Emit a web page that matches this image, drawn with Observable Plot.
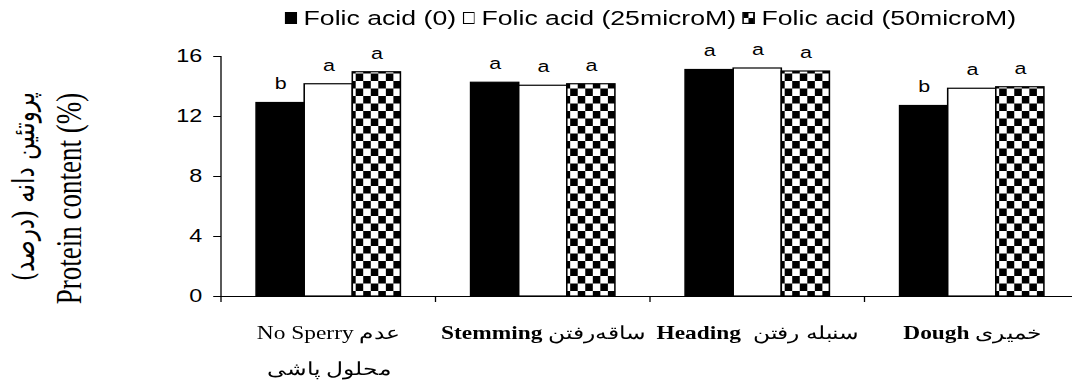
<!DOCTYPE html>
<html>
<head>
<meta charset="utf-8">
<script src="https://cdn.jsdelivr.net/npm/d3@7"></script>
<script src="https://cdn.jsdelivr.net/npm/@observablehq/plot@0.6"></script>
<style>
html, body { margin: 0; padding: 0; background: #fff; overflow: hidden; width: 1072px; height: 380px; }
#wrap { width: 831px; transform: scaleX(1.3); transform-origin: 0 0; }
#legend { height: 36px; position: relative; font-family: "Liberation Sans", Arial, sans-serif; font-size: 20.5px; color: #000; }
#legend .items { position: absolute; left: 219px; top: 0; height: 36px; display: flex; align-items: center; white-space: nowrap; }
#legend .item { display: flex; align-items: center; margin-right: 5px; }
#legend svg { margin-right: 5px; display: block; }
</style>
</head>
<body>
<div id="wrap">
  <div id="legend"><div class="items" id="items"></div></div>
  <div id="chart"></div>
</div>
<script>
// ---- data ----
const stages = ["No Sperry عدم\nمحلول پاشی", "Stemming ساقه‌رفتن", "Heading  سنبله رفتن", "Dough خمیری"];
const boldStageWords = ["Stemming", "Heading", "Dough"];
const treatments = ["Folic acid (0)", "Folic acid (25microM)", "Folic acid (50microM)"];
const protein0  = [12.9, 14.25, 15.1, 12.7];
const protein25 = [14.15, 14.05, 15.2, 13.85];
const protein50 = [14.95, 14.15, 15.0, 13.95];
const letters0  = ["b", "a", "a", "b"];
const letters25 = ["a", "a", "a", "a"];
const letters50 = ["a", "a", "a", "a"];
const yTicks = [0, 4, 8, 12, 16];
const yLabelEn = "Protein content (%)";
const yLabelFa = "پروتئین دانه (درصد)";

// ---- table ----
const series = [protein0, protein25, protein50];
const letterSeries = [letters0, letters25, letters50];
const table = [];
stages.forEach((s, i) => treatments.forEach((t, j) => {
  table.push({stage: s, treatment: t, value: series[j][i], letter: letterSeries[j][i]});
}));

// ---- legend ----
const items = document.getElementById("items");
const swatchSvg = [
  '<svg width="9.5" height="12"><rect x="0" y="0" width="9.5" height="12" fill="#000"/></svg>',
  '<svg width="9.5" height="12"><rect x="0.5" y="0.5" width="8.5" height="11" fill="#fff" stroke="#000" stroke-width="1"/></svg>',
  '<svg width="9.5" height="12"><rect x="0.5" y="0.5" width="8.5" height="11" fill="#fff" stroke="#000" stroke-width="1.4"/><rect x="1" y="1" width="3.75" height="5" fill="#000"/><rect x="4.75" y="6" width="3.75" height="5" fill="#000"/></svg>'
];
treatments.forEach((t, j) => {
  const d = document.createElement("div");
  d.className = "item";
  d.innerHTML = swatchSvg[j] + "<span></span>";
  d.querySelector("span").textContent = t;
  items.appendChild(d);
});

// ---- chart ----
const chart = Plot.plot({
  width: 831,
  height: 344,
  marginLeft: 169,
  marginRight: 0,
  marginTop: 20,
  marginBottom: 84,
  style: {background: "white", color: "black", overflow: "visible"},
  fx: {domain: stages, padding: 0, label: null},
  x: {domain: treatments, paddingInner: 0, paddingOuter: 0.71, axis: null},
  y: {domain: [0, 16]},
  color: {domain: treatments, range: ["black", "white", "url(#checker)"]},
  marks: [
    Plot.barY(table, {fx: "stage", x: "treatment", y: "value", fill: "treatment", stroke: "black", strokeWidth: 1.2}),
    Plot.text(table, {fx: "stage", x: "treatment", y: "value", text: "letter", dy: -19, fontSize: 16.5, fontFamily: "Liberation Sans, Arial, sans-serif", fill: "black"}),
    Plot.ruleY([0], {stroke: "black", strokeWidth: 1}),
    Plot.axisY({ticks: yTicks, tickSize: 6, tickPadding: 9, fontSize: 18, fontFamily: "Liberation Sans, Arial, sans-serif", label: null}),
    Plot.axisFx({anchor: "bottom", tickSize: 0, tickPadding: 17, fontSize: 18, fontFamily: "Liberation Serif, Times New Roman, serif", lineHeight: 2, label: null}),
    Plot.text([yLabelEn], {facet: "super", frameAnchor: "left", textAnchor: "middle", lineAnchor: "middle", rotate: -90, dx: -117, dy: 22, fontSize: 27, fontFamily: "Liberation Serif, Times New Roman, serif", fill: "black"}),
    Plot.text([yLabelFa], {facet: "super", frameAnchor: "left", textAnchor: "middle", lineAnchor: "middle", rotate: -90, dx: -152, dy: 10, fontSize: 23, fontFamily: "DejaVu Serif, DejaVu Sans, serif", fill: "black"})
  ]
});

// checker pattern + y axis line and group separators from the plot's scales
const svg = d3.select(chart);
const pat = svg.insert("defs", ":first-child").append("pattern")
  .attr("id", "checker").attr("patternUnits", "userSpaceOnUse")
  .attr("width", 11.6).attr("height", 15);
pat.append("rect").attr("width", 11.6).attr("height", 15).attr("fill", "white");
pat.append("rect").attr("x", 0).attr("y", 0).attr("width", 5.8).attr("height", 7.5).attr("fill", "black");
pat.append("rect").attr("x", 5.8).attr("y", 7.5).attr("width", 5.8).attr("height", 7.5).attr("fill", "black");

const fxs = chart.scale("fx");
const ys = chart.scale("y");
const y0 = ys.apply(0), yTop = ys.apply(16);
const g = svg.append("g").attr("stroke", "black").attr("stroke-width", 1);
stages.forEach((s, i) => {
  const x0 = fxs.apply(s);
  g.append("line").attr("x1", x0).attr("x2", x0).attr("y1", i === 0 ? yTop : y0).attr("y2", y0 + 6);
});

// bold the English stage names that are bold in the original
svg.selectAll("text").each(function () {
  const el = this;
  if (el.querySelector("tspan")) return;
  const txt = el.textContent;
  const w = boldStageWords.find(b => txt.startsWith(b + " "));
  if (!w) return;
  el.textContent = "";
  const t1 = document.createElementNS("http://www.w3.org/2000/svg", "tspan");
  t1.setAttribute("font-weight", "bold");
  t1.textContent = w;
  const t2 = document.createElementNS("http://www.w3.org/2000/svg", "tspan");
  t2.textContent = txt.slice(w.length);
  el.appendChild(t1);
  el.appendChild(t2);
});

document.getElementById("chart").appendChild(chart);
</script>
</body>
</html>
